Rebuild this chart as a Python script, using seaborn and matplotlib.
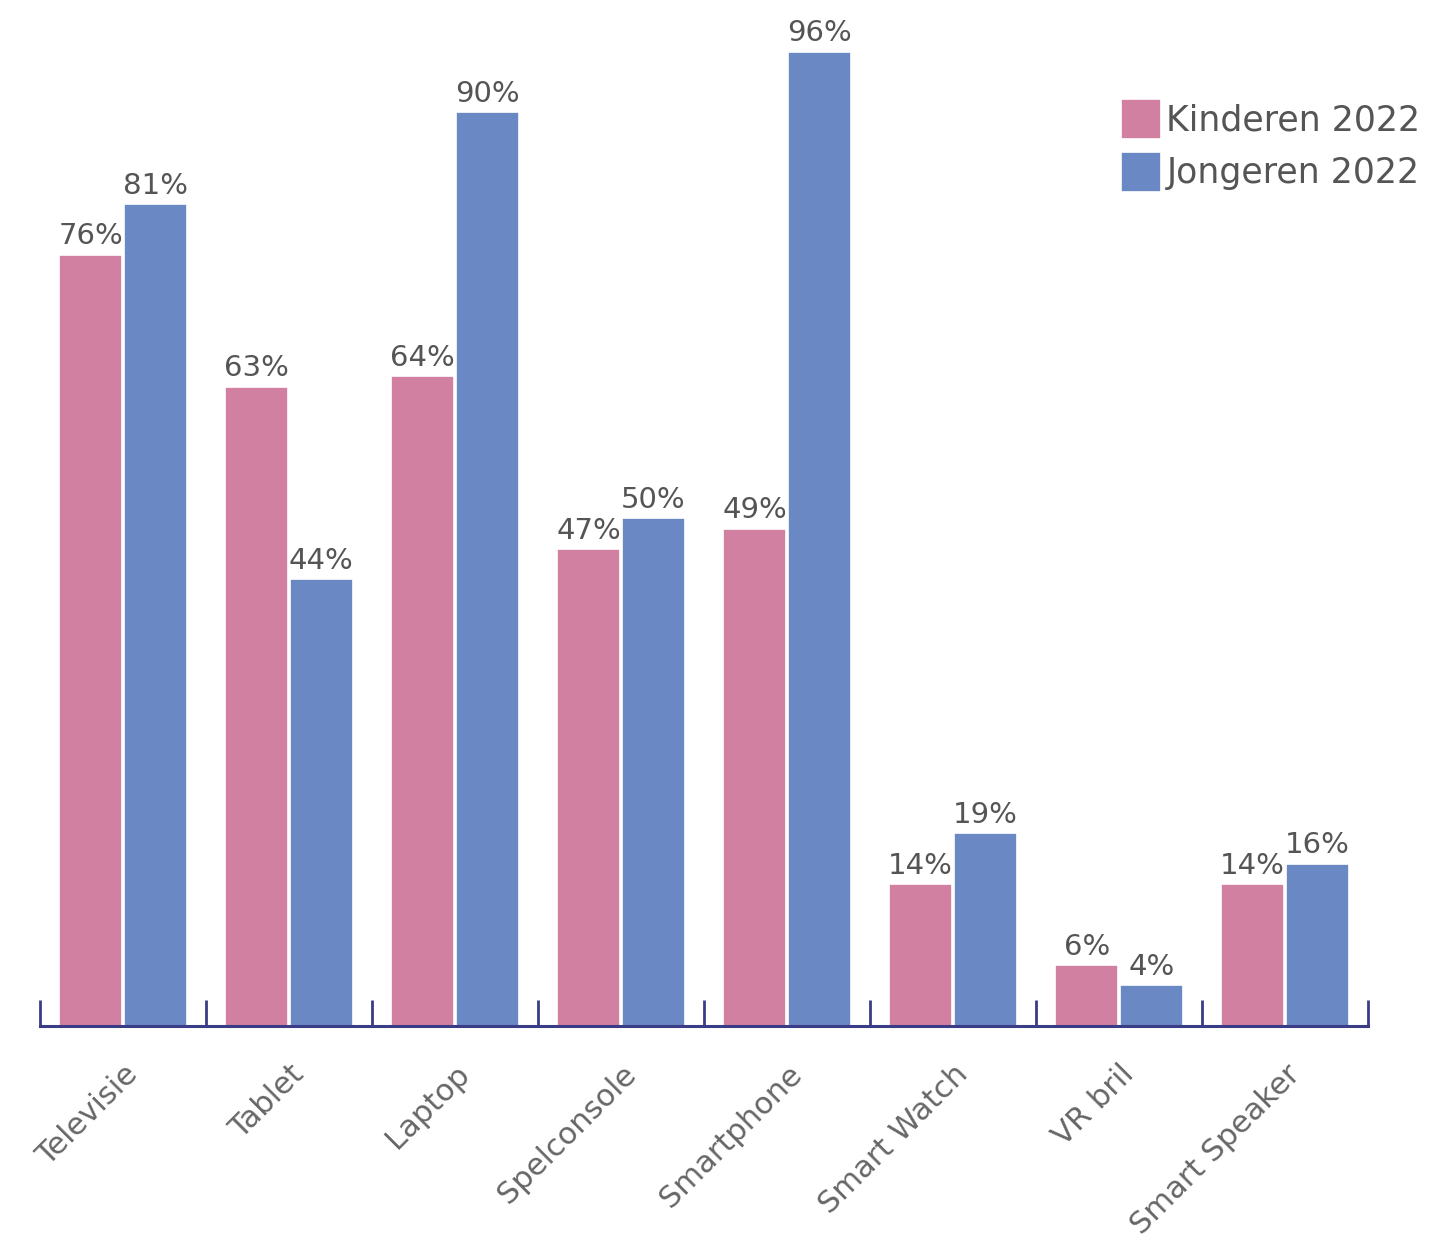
import matplotlib
matplotlib.use("Agg")
import matplotlib.pyplot as plt
import seaborn as sns
import pandas as pd
import numpy as np

categories = ["Televisie", "Tablet", "Laptop", "Spelconsole", "Smartphone",
              "Smart Watch", "VR bril", "Smart Speaker"]
kinderen = [76, 63, 64, 47, 49, 14, 6, 14]
jongeren = [81, 44, 90, 50, 96, 19, 4, 16]
series_names = ["Kinderen 2022", "Jongeren 2022"]
colors = ["#D180A2", "#6A88C3"]

df = pd.DataFrame({
    "categorie": categories * 2,
    "waarde": kinderen + jongeren,
    "groep": [series_names[0]] * len(categories) + [series_names[1]] * len(categories),
})

sns.set_theme(style="white")
plt.rcParams['font.family'] = ['DejaVu Sans']

fig = plt.figure(figsize=(14.43, 12.43), dpi=100)
ax = fig.add_axes([40/1443, 1 - 1026/1243, 1328/1443, 1015/1243])

sns.barplot(data=df, x="categorie", y="waarde", hue="groep", order=categories,
            hue_order=series_names, palette=colors, saturation=1, width=0.78,
            gap=0.02, edgecolor="white", linewidth=1.2, ax=ax, legend=True)

ax.set_xlim(-0.5, len(categories) - 0.5)
ax.set_ylim(0, 100)
ax.set_xlabel("")
ax.set_ylabel("")
ax.set_yticks([])

for cont in ax.containers:
    ax.bar_label(cont, labels=[f"{int(v)}%" for v in cont.datavalues],
                 padding=3, fontsize=21, color="#555555")

navy = "#3A3D85"
for s in ["left", "right", "top"]:
    ax.spines[s].set_visible(False)
ax.spines["bottom"].set_color(navy)
ax.spines["bottom"].set_linewidth(2.2)

ax.set_xticks(np.arange(len(categories)))
ax.set_xticklabels(categories, rotation=45, ha="right", rotation_mode="anchor",
                   fontsize=22, color="#666666")
ax.tick_params(axis="x", which="major", length=0, pad=24)
ax.set_xticks(np.arange(-0.5, len(categories)), minor=True)
ax.tick_params(axis="x", which="minor", direction="in", length=19, width=2,
               color=navy, bottom=True)

leg = ax.get_legend()
if leg is not None:
    leg.remove()
handles, labels = ax.get_legend_handles_labels()
fig.legend(handles[:2], labels[:2], loc="upper left",
           bbox_to_anchor=(1104/1443, 1 - 82/1243), frameon=False,
           fontsize=25, handlelength=1.15, handleheight=1.4,
           handletextpad=0.15, labelspacing=0.35, borderpad=0,
           labelcolor="#555555")

fig.savefig("out.png", dpi=100)
